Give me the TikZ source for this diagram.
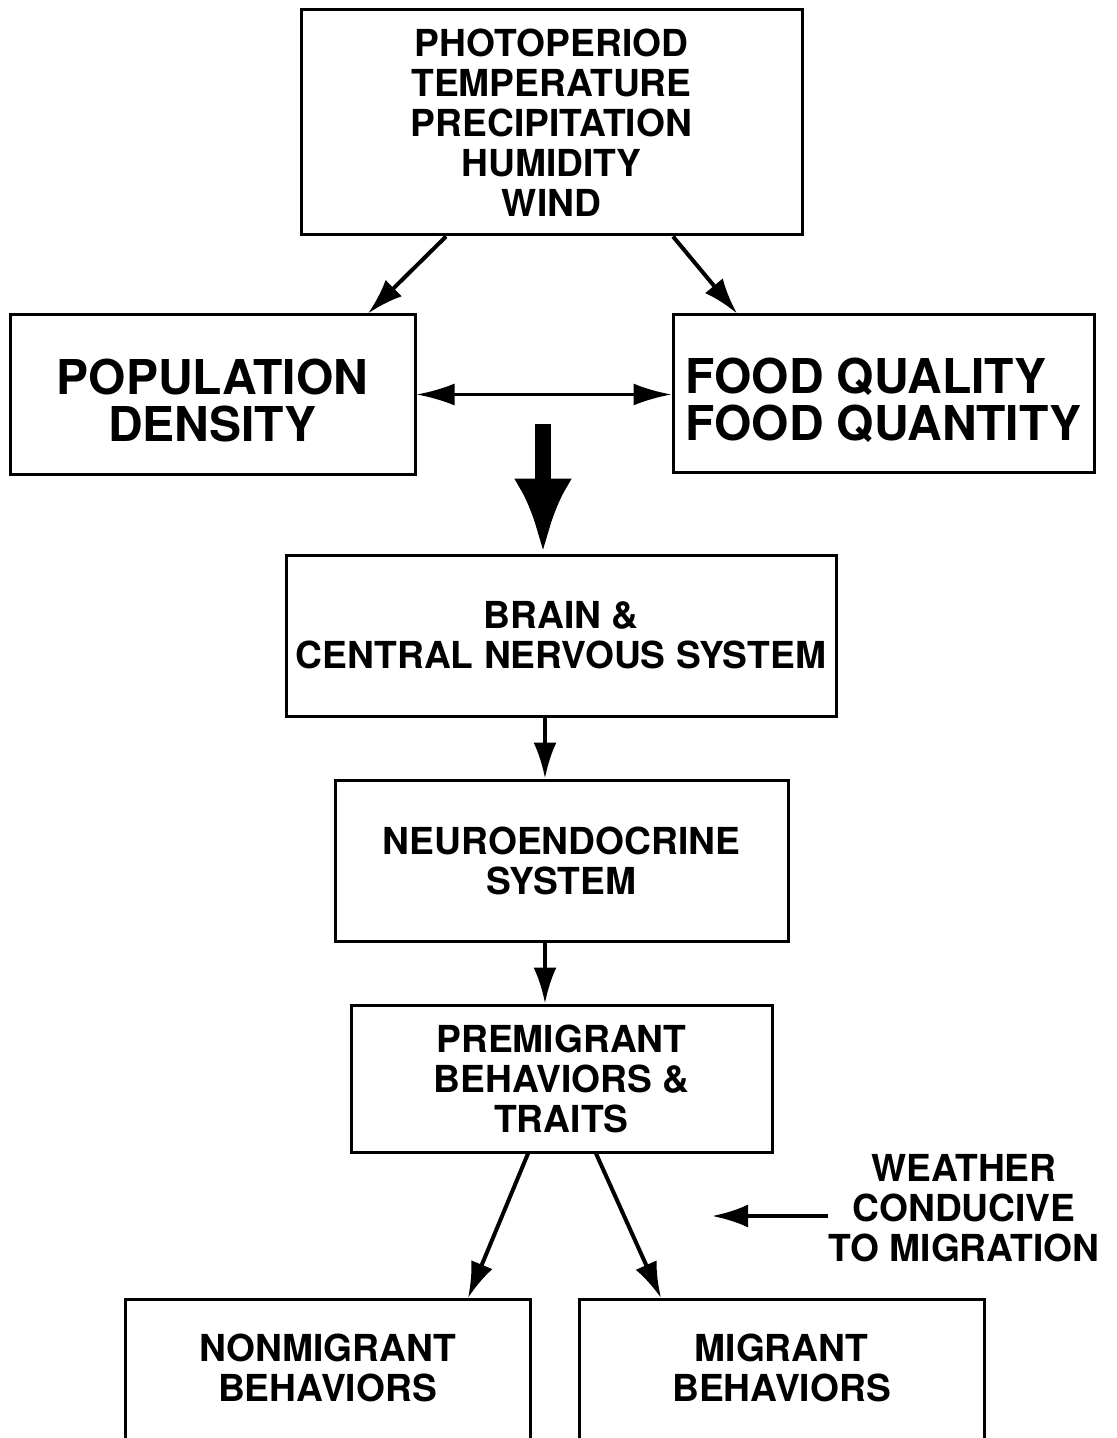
\documentclass[tikz,border=0pt]{standalone}
\usepackage{fontspec}
\setmainfont{TeX Gyre Heros}
\usetikzlibrary{arrows.meta,positioning}

\begin{document}
\begin{tikzpicture}[x=1pt,y=-1pt]
    \tikzstyle{stage} = [rectangle, draw=black, line width=1.5pt, align=center,
        font=\fontsize{18.6}{20}\selectfont\bfseries, inner sep=0pt]
    \tikzstyle{factor} = [stage, font=\fontsize{24}{23.5}\selectfont\bfseries,
        text height=47pt, text depth=0pt]
    \tikzstyle{outcome} = [stage, anchor=north, minimum width=202.5pt, minimum height=73pt,
        text depth=5pt]
    \tikzstyle{link} = [line width=2pt, -{Latex[length=18pt,width=11.5pt]}]
    \useasboundingbox (0,0) rectangle (558,719);
    \clip (0,0) rectangle (558,719);
    % environmental cues
    \node (env) [stage, minimum width=250.5pt, minimum height=112.5pt] at (275.75,61.25)
        {PHOTOPERIOD\\TEMPERATURE\\PRECIPITATION\\HUMIDITY\\WIND};
    \node (pop) [factor, minimum width=202.5pt, minimum height=79.5pt] at (106.25,197.25)
        {POPULATION\\DENSITY};
    \node (food) [factor, align=left, minimum width=210.5pt, minimum height=78.5pt] at (441.75,196.75)
        {FOOD QUALITY\\FOOD QUANTITY};
    % physiological chain
    \node (brain) [stage, minimum width=275pt, minimum height=80.5pt] at (280.5,317.75)
        {BRAIN \&\\CENTRAL NERVOUS SYSTEM};
    \node (neuro) [stage, minimum width=226.5pt, minimum height=80.5pt] at (280.75,430.25)
        {NEUROENDOCRINE\\SYSTEM};
    \node (premig) [stage, minimum width=210.5pt, minimum height=73.5pt] at (280.75,539.25)
        {PREMIGRANT\\BEHAVIORS \&\\TRAITS};
    \node (nonmig) [outcome] at (163.75,649) {NONMIGRANT\\BEHAVIORS};
    \node (mig) [outcome] at (390.75,649) {MIGRANT\\BEHAVIORS};
    \node (weather) [align=center, font=\fontsize{18.6}{20}\selectfont\bfseries, inner sep=0pt] at (482,604)
        {WEATHER\\CONDUCIVE\\TO MIGRATION};
    \coordinate (thick) at (271.5,212);
    \coordinate (wtip) at (356,608);
    % connectors
    \draw [link] ([xshift=-52.75pt]env.south) -- ([xshift=77.75pt]pop.north);
    \draw [link] ([xshift=60.75pt]env.south) -- ([xshift=-73.25pt]food.north);
    \draw [line width=1.5pt, {Latex[length=19pt,width=11pt]}-{Latex[length=19pt,width=11pt]}]
        (pop.east) -- (pop.east -| food.west);
    \draw [line width=8pt, -{Latex[length=37.5pt,width=29pt]}] (thick) -- (thick |- brain.north);
    \draw [link] ([xshift=-8pt]brain.south) -- ([xshift=-8pt]brain.south |- neuro.north);
    \draw [link] ([xshift=-8.25pt]neuro.south) -- ([xshift=-8.25pt]neuro.south |- premig.north);
    \draw [link] ([xshift=-16.75pt]premig.south) -- ([xshift=70.25pt]nonmig.north);
    \draw [link] ([xshift=17.25pt]premig.south) -- ([xshift=-60.25pt]mig.north);
    \draw [link] (weather.west |- wtip) -- (wtip);
\end{tikzpicture}
\end{document}
